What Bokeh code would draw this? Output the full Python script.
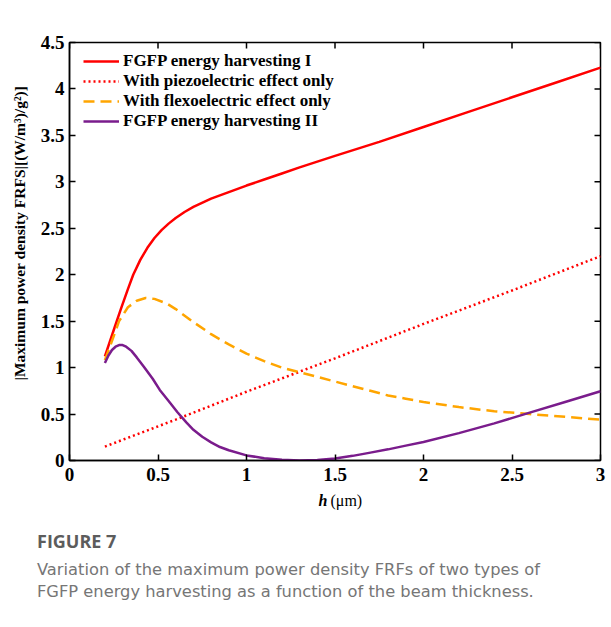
from bokeh.plotting import figure
from bokeh.layouts import column
from bokeh.models import Range1d, FixedTicker, NumeralTickFormatter, Label, Title
from bokeh.embed import file_html
from bokeh.resources import INLINE
from math import pi

# ---------------- data ----------------
h_red = [0.2, 0.25, 0.29, 0.33, 0.36, 0.40, 0.44, 0.48, 0.52, 0.56, 0.6, 0.65, 0.7, 0.8,
         0.9, 1.0, 1.1, 1.2, 1.3, 1.5, 1.75, 2.0, 2.25, 2.5, 2.75, 3.0]
p_red = [1.12, 1.405, 1.63, 1.845, 2.0, 2.16, 2.29, 2.395, 2.48, 2.55, 2.61, 2.675, 2.73, 2.82,
         2.89, 2.96, 3.025, 3.09, 3.155, 3.28, 3.43, 3.59, 3.75, 3.91, 4.07, 4.23]

h_piezo = [0.2, 0.6, 1.0, 1.5, 2.0, 2.5, 3.0]
p_piezo = [0.15, 0.44, 0.74, 1.10, 1.47, 1.83, 2.20]

h_flexo = [0.2, 0.25, 0.28, 0.33, 0.38, 0.43, 0.48, 0.55, 0.6, 0.7, 0.8, 0.9, 1.0,
           1.1, 1.2, 1.3, 1.4, 1.5, 1.6, 1.7, 1.8, 1.9, 2.0, 2.2, 2.4, 2.6, 2.8, 3.0]
p_flexo = [1.08, 1.34, 1.50, 1.65, 1.72, 1.75, 1.74, 1.69, 1.63, 1.49, 1.36, 1.25, 1.15,
           1.07, 1.00, 0.95, 0.90, 0.85, 0.80, 0.75, 0.70, 0.665, 0.63, 0.575, 0.53, 0.50, 0.47, 0.44]

h_two = [0.2, 0.22, 0.24, 0.26, 0.28, 0.30, 0.32, 0.35, 0.38, 0.42, 0.47, 0.51, 0.56,
         0.61, 0.66, 0.70, 0.75, 0.80, 0.85, 0.9, 1.0, 1.1, 1.2, 1.3, 1.4, 1.5, 1.6, 1.7,
         1.8, 1.9, 2.0, 2.2, 2.4, 2.6, 2.8, 3.0]
p_two = [1.05, 1.13, 1.19, 1.225, 1.243, 1.243, 1.225, 1.18, 1.11, 1.01, 0.88, 0.76, 0.64,
         0.52, 0.41, 0.33, 0.255, 0.195, 0.145, 0.11, 0.055, 0.025, 0.007, 0.0, 0.006, 0.022,
         0.05, 0.085, 0.12, 0.16, 0.20, 0.295, 0.40, 0.515, 0.63, 0.745]

x_ticks = [0, 0.5, 1, 1.5, 2, 2.5, 3]
y_ticks = [0, 0.5, 1, 1.5, 2, 2.5, 3, 3.5, 4, 4.5]

series_labels = ["FGFP energy harvesting I", "With piezoelectric effect only",
                 "With flexoelectric effect only", "FGFP energy harvesting II"]
x_label_var = "h"
x_label_unit = "(\u03bcm)"
y_label = "|Maximum power density FRFS|[(W/m\u00b3)/g\u00b2)]"
caption_head = "FIGURE 7"
caption_lines = ["Variation of the maximum power density FRFs of two types of",
                 "FGFP energy harvesting as a function of the beam thickness."]

SERIF = "Liberation Serif"
TOTAL_W = 610

# ---------------- main chart ----------------
p = figure(frame_width=531, frame_height=418,
           min_border_left=69, min_border_right=10, min_border_top=42, min_border_bottom=30,
           x_range=Range1d(0, 3), y_range=Range1d(0, 4.5),
           output_backend="svg", toolbar_location=None)
p.grid.visible = False
p.outline_line_color = "black"
p.outline_line_width = 1.5
p.background_fill_color = "white"
p.border_fill_color = "white"

for ax, ticks in ((p.xaxis[0], x_ticks), (p.yaxis[0], y_ticks)):
    ax.ticker = FixedTicker(ticks=ticks)
    ax.formatter = NumeralTickFormatter(format="0.[0]")
    ax.major_tick_in = 6
    ax.major_tick_out = 0
    ax.minor_tick_line_color = None
    ax.axis_line_width = 1.5
    ax.major_tick_line_width = 1.5
    ax.axis_line_color = "black"
    ax.major_tick_line_color = "black"
    ax.major_label_text_font = SERIF
    ax.major_label_text_font_style = "bold"
    ax.major_label_text_font_size = "19px"
    ax.major_label_text_color = "black"
p.xaxis[0].major_label_standoff = 7
p.yaxis[0].major_label_standoff = 5

# inward ticks on the top and right edges of the box (half of each dash is clipped by the frame)
p.scatter(x_ticks, [p.y_range.end] * len(x_ticks), marker="dash", angle=pi / 2, size=12,
          line_color="black", line_width=1.5)
p.scatter([p.x_range.end] * len(y_ticks), y_ticks, marker="dash", size=12,
          line_color="black", line_width=1.5)

W = 2.5
p.line(h_red, p_red, line_color="#ff0000", line_width=W, legend_label=series_labels[0])
p.line(h_piezo, p_piezo, line_color="#ff0000", line_width=W, line_dash="2 3",
       legend_label=series_labels[1])
p.line(h_flexo, p_flexo, line_color="#ffa500", line_width=W, line_dash="11 6",
       legend_label=series_labels[2])
p.line(h_two, p_two, line_color="#7a1c8c", line_width=W, legend_label=series_labels[3])

lg = p.legend[0]
lg.location = (14, 329)
lg.margin = 0
lg.padding = 0
lg.spacing = 0
lg.label_height = 20
lg.glyph_height = 20
lg.glyph_width = 36
lg.label_standoff = 4
lg.border_line_alpha = 0
lg.background_fill_alpha = 0
lg.label_text_font = SERIF
lg.label_text_font_style = "bold"
lg.label_text_font_size = "17px"
lg.label_text_color = "black"

# y axis title, placed in the left border
p.add_layout(Title(text=y_label, align="left", offset=80, standoff=17, vertical_align="middle",
                   text_font=SERIF, text_font_style="bold", text_font_size="15.5px",
                   text_color="black"), "left")

# ---------------- caption strip (x label + figure caption) ----------------
STRIP_H = 32
cap = figure(width=TOTAL_W, frame_height=STRIP_H,
             min_border_left=69, min_border_right=10, min_border_top=0, min_border_bottom=0,
             x_range=Range1d(69, 600), y_range=Range1d(490 + STRIP_H, 490),
             x_axis_location=None, y_axis_location=None,
             output_backend="svg", toolbar_location=None)
cap.grid.visible = False
cap.outline_line_color = None
cap.background_fill_color = "white"
cap.border_fill_color = "white"

cap.add_layout(Label(x=318, y=500, text=x_label_var, text_font=SERIF,
                     text_font_style="bold italic", text_font_size="16px",
                     text_color="black", text_baseline="alphabetic"))
cap.add_layout(Label(x=330, y=500, text=x_label_unit, text_font=SERIF,
                     text_font_size="16px", text_color="black", text_baseline="alphabetic"))

cap.add_layout(Title(text=caption_head, align="left", offset=-32.5, standoff=9,
                     text_font="Open Sans", text_font_style="bold", text_font_size="18px",
                     text_color="#5c5c5c"), "below")
for line, so in zip(caption_lines, [0, 3]):
    cap.add_layout(Title(text=line, align="left", offset=-32.5, standoff=so,
                         text_font="DejaVu Sans", text_font_style="normal",
                         text_font_size="16.3px", text_color="#767676"), "below")

layout = column(p, cap, spacing=0)
open("out.html", "w").write(file_html(layout, INLINE))
